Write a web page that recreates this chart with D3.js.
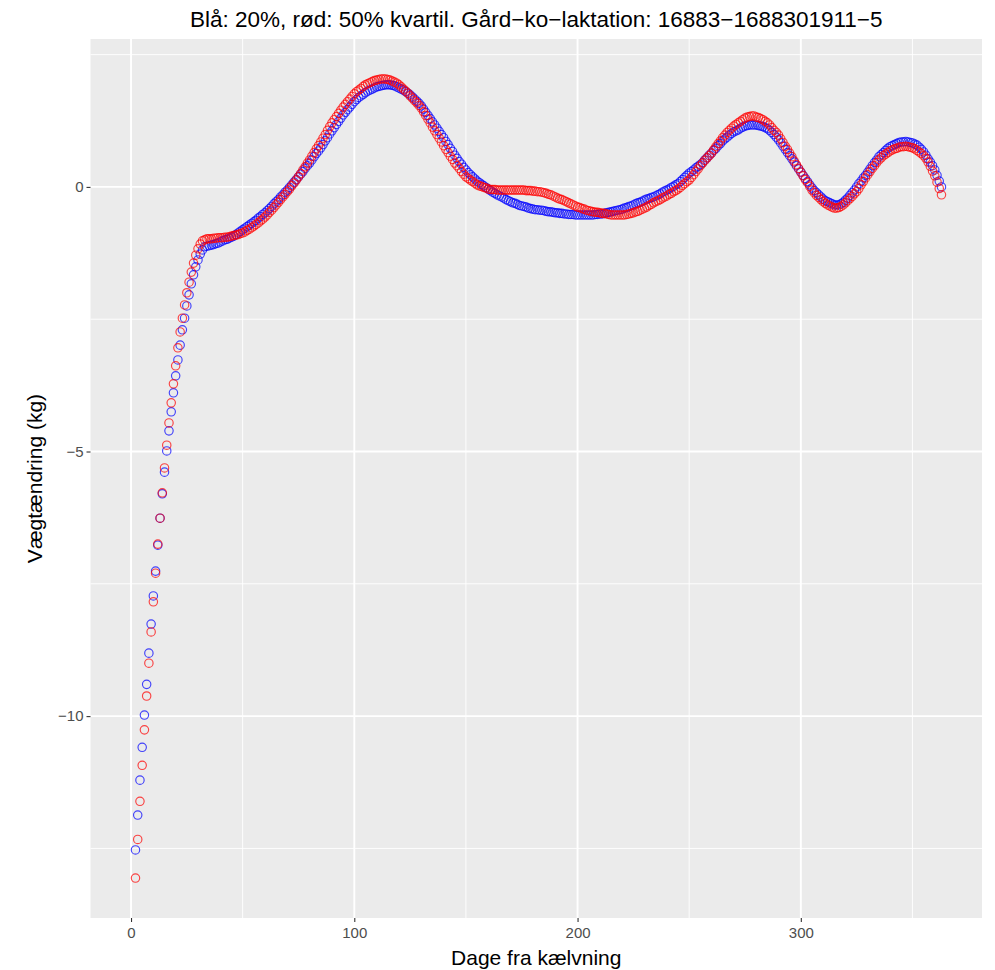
<!DOCTYPE html>
<html>
<head>
<meta charset="utf-8">
<script src="https://cdn.jsdelivr.net/npm/d3@7"></script>
<style>
  body { margin: 0; background: #fff; }
  svg text { font-family: "Liberation Sans", Arial, sans-serif; }
</style>
</head>
<body>
<script>
// DATA (days from calving; weight change in kg)
const firstDay = 2;
const lastDay = 363;
const days = d3.range(firstDay, lastDay + 1);

// blue: 20% quantile
const blueValues = [
  -12.53, -11.87, -11.21, -10.59, -9.98, -9.40, -8.81, -8.26, -7.73, -7.26,
  -6.77, -6.26, -5.80, -5.39, -4.99, -4.61, -4.25, -3.89, -3.57, -3.27,
  -2.99, -2.70, -2.48, -2.25, -2.04, -1.83, -1.66, -1.51, -1.38, -1.27,
  -1.19, -1.13, -1.12, -1.11, -1.10, -1.09, -1.07, -1.06, -1.04, -1.02,
  -1.00, -0.99, -0.97, -0.95, -0.93, -0.90, -0.87, -0.84, -0.81, -0.78,
  -0.75, -0.72, -0.69, -0.66, -0.63, -0.59, -0.56, -0.52, -0.49, -0.45,
  -0.41, -0.37, -0.32, -0.28, -0.24, -0.19, -0.15, -0.10, -0.06, -0.01,
  0.04, 0.09, 0.14, 0.19, 0.24, 0.29, 0.35, 0.40, 0.45, 0.51,
  0.57, 0.63, 0.68, 0.74, 0.80, 0.87, 0.93, 1.00, 1.06, 1.12,
  1.18, 1.24, 1.30, 1.36, 1.41, 1.46, 1.51, 1.56, 1.61, 1.65,
  1.69, 1.72, 1.75, 1.78, 1.81, 1.83, 1.85, 1.87, 1.89, 1.90,
  1.91, 1.92, 1.93, 1.93, 1.93, 1.92, 1.91, 1.89, 1.87, 1.85,
  1.83, 1.80, 1.77, 1.74, 1.70, 1.66, 1.62, 1.58, 1.53, 1.47,
  1.41, 1.35, 1.29, 1.23, 1.17, 1.11, 1.05, 0.99, 0.93, 0.86,
  0.80, 0.73, 0.67, 0.60, 0.54, 0.48, 0.43, 0.37, 0.32, 0.27,
  0.23, 0.19, 0.15, 0.11, 0.08, 0.05, 0.02, -0.01, -0.04, -0.07,
  -0.10, -0.12, -0.15, -0.17, -0.19, -0.21, -0.24, -0.26, -0.28, -0.30,
  -0.31, -0.33, -0.35, -0.36, -0.37, -0.38, -0.40, -0.41, -0.42, -0.43,
  -0.43, -0.44, -0.44, -0.45, -0.46, -0.47, -0.47, -0.48, -0.49, -0.49,
  -0.50, -0.50, -0.51, -0.51, -0.52, -0.52, -0.52, -0.53, -0.53, -0.53,
  -0.53, -0.53, -0.53, -0.53, -0.53, -0.53, -0.52, -0.52, -0.51, -0.51,
  -0.50, -0.49, -0.48, -0.47, -0.46, -0.45, -0.44, -0.43, -0.42, -0.40,
  -0.39, -0.37, -0.36, -0.34, -0.32, -0.30, -0.29, -0.27, -0.25, -0.23,
  -0.22, -0.20, -0.19, -0.17, -0.15, -0.13, -0.10, -0.08, -0.06, -0.04,
  -0.01, 0.01, 0.04, 0.06, 0.10, 0.14, 0.18, 0.22, 0.26, 0.29,
  0.32, 0.36, 0.39, 0.42, 0.46, 0.51, 0.55, 0.60, 0.64, 0.69,
  0.73, 0.78, 0.82, 0.87, 0.91, 0.94, 0.98, 1.01, 1.04, 1.06,
  1.08, 1.11, 1.13, 1.15, 1.16, 1.17, 1.17, 1.17, 1.17, 1.16,
  1.15, 1.14, 1.12, 1.10, 1.07, 1.03, 0.99, 0.94, 0.89, 0.83,
  0.77, 0.71, 0.65, 0.59, 0.53, 0.47, 0.40, 0.34, 0.28, 0.22,
  0.16, 0.10, 0.04, -0.02, -0.07, -0.11, -0.15, -0.19, -0.23, -0.26,
  -0.28, -0.30, -0.32, -0.34, -0.34, -0.34, -0.32, -0.29, -0.25, -0.21,
  -0.16, -0.11, -0.06, 0.00, 0.06, 0.11, 0.17, 0.22, 0.28, 0.34,
  0.40, 0.46, 0.51, 0.57, 0.61, 0.65, 0.69, 0.73, 0.76, 0.78,
  0.80, 0.82, 0.84, 0.85, 0.85, 0.86, 0.85, 0.84, 0.83, 0.81,
  0.79, 0.75, 0.71, 0.66, 0.60, 0.53, 0.47, 0.40, 0.32, 0.22,
  0.11, 0.00
];

// red: 50% quantile
const redValues = [
  -13.06, -12.33, -11.61, -10.93, -10.26, -9.62, -9.00, -8.41, -7.84, -7.30,
  -6.75, -6.26, -5.78, -5.31, -4.88, -4.46, -4.08, -3.72, -3.38, -3.04,
  -2.74, -2.48, -2.23, -2.00, -1.80, -1.61, -1.44, -1.29, -1.17, -1.08,
  -1.02, -1.00, -0.98, -0.98, -0.98, -0.97, -0.97, -0.96, -0.96, -0.96,
  -0.95, -0.95, -0.94, -0.93, -0.92, -0.91, -0.90, -0.88, -0.87, -0.85,
  -0.82, -0.80, -0.77, -0.74, -0.71, -0.68, -0.64, -0.61, -0.57, -0.53,
  -0.48, -0.44, -0.39, -0.34, -0.29, -0.24, -0.19, -0.14, -0.09, -0.04,
  0.02, 0.07, 0.13, 0.19, 0.25, 0.32, 0.38, 0.45, 0.51, 0.58,
  0.65, 0.72, 0.78, 0.85, 0.92, 0.99, 1.07, 1.14, 1.21, 1.27,
  1.33, 1.39, 1.45, 1.51, 1.56, 1.61, 1.66, 1.71, 1.76, 1.80,
  1.83, 1.86, 1.90, 1.93, 1.95, 1.97, 1.99, 2.01, 2.02, 2.03,
  2.04, 2.04, 2.04, 2.03, 2.02, 2.00, 1.98, 1.96, 1.93, 1.89,
  1.85, 1.81, 1.77, 1.72, 1.68, 1.63, 1.59, 1.54, 1.49, 1.42,
  1.35, 1.28, 1.21, 1.13, 1.06, 0.99, 0.92, 0.85, 0.78, 0.71,
  0.65, 0.58, 0.52, 0.45, 0.40, 0.35, 0.29, 0.24, 0.19, 0.16,
  0.13, 0.10, 0.07, 0.04, 0.02, 0.01, -0.01, -0.02, -0.04, -0.05,
  -0.05, -0.05, -0.06, -0.06, -0.06, -0.06, -0.06, -0.06, -0.06, -0.06,
  -0.06, -0.06, -0.06, -0.06, -0.06, -0.07, -0.07, -0.07, -0.08, -0.08,
  -0.09, -0.09, -0.10, -0.11, -0.12, -0.14, -0.15, -0.17, -0.19, -0.21,
  -0.23, -0.24, -0.26, -0.28, -0.30, -0.32, -0.34, -0.36, -0.38, -0.39,
  -0.41, -0.42, -0.44, -0.45, -0.46, -0.47, -0.48, -0.48, -0.49, -0.50,
  -0.50, -0.51, -0.52, -0.53, -0.53, -0.53, -0.53, -0.53, -0.53, -0.53,
  -0.52, -0.51, -0.50, -0.49, -0.47, -0.46, -0.44, -0.42, -0.40, -0.38,
  -0.35, -0.33, -0.30, -0.28, -0.26, -0.24, -0.21, -0.19, -0.17, -0.14,
  -0.12, -0.09, -0.07, -0.04, -0.01, 0.03, 0.06, 0.10, 0.13, 0.18,
  0.23, 0.29, 0.34, 0.40, 0.45, 0.50, 0.55, 0.59, 0.64, 0.70,
  0.76, 0.82, 0.87, 0.93, 0.98, 1.03, 1.07, 1.11, 1.15, 1.18,
  1.21, 1.24, 1.27, 1.30, 1.32, 1.33, 1.34, 1.34, 1.32, 1.31,
  1.29, 1.27, 1.24, 1.21, 1.17, 1.12, 1.07, 1.03, 0.98, 0.91,
  0.84, 0.77, 0.71, 0.64, 0.57, 0.49, 0.42, 0.35, 0.28, 0.21,
  0.14, 0.08, 0.01, -0.06, -0.11, -0.16, -0.20, -0.24, -0.28, -0.31,
  -0.34, -0.36, -0.38, -0.40, -0.40, -0.39, -0.37, -0.34, -0.30, -0.26,
  -0.22, -0.18, -0.13, -0.09, -0.03, 0.04, 0.10, 0.17, 0.23, 0.29,
  0.35, 0.40, 0.46, 0.51, 0.55, 0.59, 0.62, 0.65, 0.68, 0.70,
  0.72, 0.73, 0.75, 0.76, 0.76, 0.77, 0.76, 0.75, 0.74, 0.72,
  0.69, 0.66, 0.63, 0.59, 0.54, 0.47, 0.39, 0.30, 0.21, 0.09,
  -0.03, -0.15
];

const xTicks = [0, 100, 200, 300];
const xMinor = [50, 150, 250, 350];
const yTicks = [0, -5, -10];
const yMinor = [2.5, -2.5, -7.5, -12.5];

const titleText = 'Blå: 20%, rød: 50% kvartil. Gård\u2212ko\u2212laktation: 16883\u22121688301911\u22125';
const xTitle = 'Dage fra kælvning';
const yTitle = 'Vægtændring (kg)';

// LAYOUT
const width = 995;
const height = 970;
const panel = {left: 90.5, right: 982, top: 39, bottom: 918};
const panelBg = '#ebebeb';
const blueColor = '#0000ff';
const redColor = '#ff0000';
const pointRadius = 4.2;
const titleFont = '22.5px';
const axisTitleFont = '21px';
const tickFont = '15px';

const svg = d3.select('body').append('svg')
  .attr('width', width)
  .attr('height', height);

// ggplot style 5% expansion
const expand = ([a, b]) => [a - (b - a) * 0.05, b + (b - a) * 0.05];
const allValues = blueValues.concat(redValues);
const x = d3.scaleLinear()
  .domain(expand([0, lastDay]))
  .range([panel.left, panel.right]);
const y = d3.scaleLinear()
  .domain(expand(d3.extent(allValues)))
  .range([panel.bottom, panel.top]);

// PANEL
svg.append('rect')
  .attr('x', panel.left)
  .attr('y', panel.top)
  .attr('width', panel.right - panel.left)
  .attr('height', panel.bottom - panel.top)
  .attr('fill', panelBg);

const grid = svg.append('g').attr('class', 'grid').attr('stroke', '#fff');
grid.selectAll('.yminor').data(yMinor).enter().append('line')
  .attr('x1', panel.left).attr('x2', panel.right)
  .attr('y1', d => y(d)).attr('y2', d => y(d))
  .attr('stroke-width', 0.9);
grid.selectAll('.xminor').data(xMinor).enter().append('line')
  .attr('y1', panel.top).attr('y2', panel.bottom)
  .attr('x1', d => x(d)).attr('x2', d => x(d))
  .attr('stroke-width', 0.9);
grid.selectAll('.ymajor').data(yTicks).enter().append('line')
  .attr('x1', panel.left).attr('x2', panel.right)
  .attr('y1', d => y(d)).attr('y2', d => y(d))
  .attr('stroke-width', 1.9);
grid.selectAll('.xmajor').data(xTicks).enter().append('line')
  .attr('y1', panel.top).attr('y2', panel.bottom)
  .attr('x1', d => x(d)).attr('x2', d => x(d))
  .attr('stroke-width', 1.9);

// AXES
const fmt = d => d < 0 ? '\u2212' + Math.abs(d) : String(d);
const xAxis = svg.append('g')
  .attr('transform', `translate(0, ${panel.bottom})`)
  .call(d3.axisBottom(x).tickValues(xTicks).tickFormat(fmt).tickSize(4).tickPadding(5));
const yAxis = svg.append('g')
  .attr('transform', `translate(${panel.left}, 0)`)
  .call(d3.axisLeft(y).tickValues(yTicks).tickFormat(fmt).tickSize(4).tickPadding(3));
[xAxis, yAxis].forEach(a => {
  a.select('.domain').remove();
  a.selectAll('.tick line').attr('stroke', '#333').attr('stroke-width', 1.1);
  a.selectAll('.tick text')
    .attr('fill', '#4d4d4d')
    .style('font-size', tickFont)
    .style('font-family', '"Liberation Sans", Arial, sans-serif');
});

// POINTS
const series = [
  {name: 'blue', color: blueColor, values: blueValues},
  {name: 'red', color: redColor, values: redValues}
];
const pointGroups = svg.append('g').selectAll('g')
  .data(series)
  .enter().append('g')
    .attr('class', d => 'series ' + d.name)
    .attr('fill', 'none')
    .attr('stroke', d => d.color)
    .attr('stroke-opacity', 0.72)
    .attr('stroke-width', 1.15);

pointGroups.selectAll('circle')
  .data(d => d.values.map((v, i) => ({day: days[i], value: v})))
  .enter().append('circle')
    .attr('cx', d => x(d.day))
    .attr('cy', d => y(d.value))
    .attr('r', pointRadius);

// TITLES
svg.append('text')
  .attr('x', (panel.left + panel.right) / 2)
  .attr('y', 27)
  .attr('text-anchor', 'middle')
  .style('font-size', titleFont)
  .attr('fill', '#000')
  .text(titleText);

svg.append('text')
  .attr('x', (panel.left + panel.right) / 2)
  .attr('y', 965)
  .attr('text-anchor', 'middle')
  .style('font-size', axisTitleFont)
  .attr('fill', '#000')
  .text(xTitle);

svg.append('text')
  .attr('transform', `translate(42, ${(panel.top + panel.bottom) / 2}) rotate(-90)`)
  .attr('text-anchor', 'middle')
  .style('font-size', axisTitleFont)
  .attr('fill', '#000')
  .text(yTitle);
</script>
</body>
</html>
